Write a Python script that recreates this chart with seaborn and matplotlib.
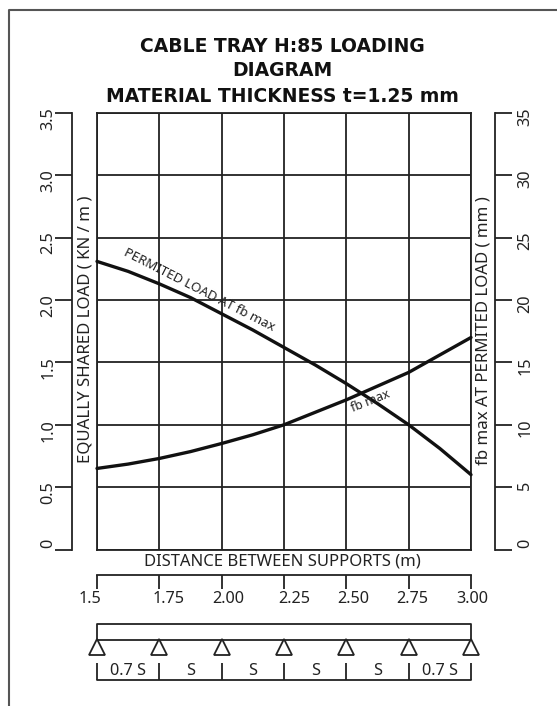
import numpy as np
import pandas as pd
import seaborn as sns
import matplotlib.pyplot as plt
from matplotlib.transforms import ScaledTranslation

W, H = 557, 706
DARK = '#222222'

spans = [1.5, 1.625, 1.75, 1.875, 2.0, 2.125, 2.25, 2.375, 2.5, 2.625, 2.75, 2.875, 3.0]
load = [2.31, 2.23, 2.13, 2.02, 1.89, 1.76, 1.62, 1.48, 1.33, 1.17, 1.0, 0.81, 0.6]
fb = [6.5, 6.85, 7.3, 7.85, 8.5, 9.2, 10.0, 11.0, 12.0, 13.1, 14.2, 15.6, 17.0]

supports = [1.5, 1.75, 2.0, 2.25, 2.5, 2.75, 3.0]
support_labels = ['1.5', '1.75', '2.00', '2.25', '2.50', '2.75', '3.00']
label_shift = [-7, 9, 7, 10, 7, 4, 1]
span_labels = ['0.7 S', 'S', 'S', 'S', 'S', '0.7 S']
load_ticks = [0, 0.5, 1.0, 1.5, 2.0, 2.5, 3.0, 3.5]
load_labels = ['0', '0.5', '1.0', '1.5', '2.0', '2.5', '3.0', '3.5']
fb_ticks = [0, 5, 10, 15, 20, 25, 30, 35]

sns.set_theme(style='white')
plt.rcParams['font.family'] = ['Noto Sans', 'DejaVu Sans']
plt.rcParams['text.color'] = DARK

fig = plt.figure(figsize=(W / 100, H / 100), dpi=100)
box = [97 / W, (H - 549.5) / H, 374 / W, 436.5 / H]
ax = fig.add_axes(box)

df = pd.DataFrame({'span': spans, 'load': load, 'fb': fb})

# main grid
ax.set_xlim(1.5, 3.0)
ax.set_ylim(0, 3.5)
ax.set_xticks(supports)
ax.set_yticks(load_ticks)
ax.grid(True, color=DARK, lw=1.3)
for s in ax.spines.values():
    s.set_color(DARK)
    s.set_linewidth(1.3)
sns.lineplot(data=df, x='span', y='load', ax=ax, color='#111111', lw=2.4, clip_on=False, zorder=5)
ax.set_xlabel('')
ax.set_ylabel('')

# left scale
ax_l = ax.twinx()
ax_l.set_ylim(0, 3.5)
ax_l.yaxis.set_ticks_position('left')
ax_l.set_yticks(load_ticks, load_labels)
ax_l.tick_params(axis='y', length=12, width=1.3, color=DARK, pad=-1, labelcolor=DARK, direction='out',
                 labelrotation=90, labelsize=11.7)
ax_l.tick_params(axis='x', bottom=False, top=False, labelbottom=False)
for lab in ax_l.get_yticklabels():
    lab.set_va('center')
for name, s in ax_l.spines.items():
    s.set_visible(name == 'left')
ax_l.spines['left'].set_position(('outward', 18))
ax_l.spines['left'].set_color(DARK)
ax_l.spines['left'].set_linewidth(1.3)

# right scale with the fb curve
ax_r = ax.twinx()
ax_r.set_ylim(0, 35)
sns.lineplot(data=df, x='span', y='fb', ax=ax_r, color='#111111', lw=2.4, clip_on=False, zorder=5)
ax_r.set_xlabel('')
ax_r.set_ylabel('')
ax_r.set_yticks(fb_ticks, [str(v) for v in fb_ticks])
ax_r.tick_params(axis='y', length=12, width=1.3, color=DARK, pad=4, labelcolor=DARK, direction='out', right=True,
                 labelrotation=90, labelsize=11.7)
ax_r.tick_params(axis='x', bottom=False, top=False, labelbottom=False)
for lab in ax_r.get_yticklabels():
    lab.set_va('center')
for name, s in ax_r.spines.items():
    s.set_visible(name == 'right')
ax_r.spines['right'].set_position(('outward', 17.3))
ax_r.spines['right'].set_color(DARK)
ax_r.spines['right'].set_linewidth(1.3)

# the 0 labels sit a little above their ticks
for a in (ax_l, ax_r):
    zero = a.get_yticklabels()[0]
    zero.set_transform(zero.get_transform() + ScaledTranslation(0, 5 / 100, fig.dpi_scale_trans))

# distance scale
ax_b = ax.twiny()
ax_b.set_xlim(1.5, 3.0)
ax_b.xaxis.set_ticks_position('bottom')
ax_b.set_xticks(supports, support_labels)
ax_b.tick_params(axis='x', length=10, width=1.3, color=DARK, pad=2, labelcolor=DARK, direction='out', labelsize=11.7)
ax_b.tick_params(axis='y', left=False, right=False, labelleft=False)
for name, s in ax_b.spines.items():
    s.set_visible(name == 'bottom')
ax_b.spines['bottom'].set_position(('outward', 18))
ax_b.spines['bottom'].set_color(DARK)
ax_b.spines['bottom'].set_linewidth(1.3)
for lab, dx in zip(ax_b.get_xticklabels(), label_shift):
    lab.set_transform(lab.get_transform() + ScaledTranslation(dx / 100, 0, fig.dpi_scale_trans))

# twinx and twiny turn these back on, so clear them last
ax.tick_params(left=False, bottom=False, right=False, top=False, labelleft=False, labelbottom=False)

# beam sketch, y in image rows
ax_s = fig.add_axes([box[0], (H - 690) / H, box[2], 80 / H])
ax_s.set_xlim(1.5, 3.0)
ax_s.set_ylim(690, 610)
ax_s.axis('off')
beam_top, beam_low, tri_y, dim_top, dim_low = 624, 640, 647, 663, 680
ax_s.plot([supports[0], supports[0], supports[-1], supports[-1]], [beam_low, beam_top, beam_top, beam_low],
          color=DARK, lw=1.3, clip_on=False)
ax_s.plot([supports[0], supports[-1]], [beam_low, beam_low], color=DARK, lw=1.3, clip_on=False)
ax_s.plot(supports, [tri_y] * len(supports), ls='', marker='^', ms=11.5, mfc='white', mec=DARK, mew=1.3, clip_on=False)
ax_s.plot([supports[0], supports[-1]], [dim_low, dim_low], color=DARK, lw=1.3, clip_on=False)
ax_s.vlines(supports, dim_top, dim_low, color=DARK, lw=1.3, clip_on=False)
mids = (np.array(supports[:-1]) + np.array(supports[1:])) / 2
for m, t in zip(mids, span_labels):
    ax_s.text(m, 671, t, ha='center', va='center', fontsize=11.7)

# outer frame, open on the right and at the bottom
fig.add_artist(plt.Line2D([9 / W, 9 / W, 1], [0, (H - 10) / H, (H - 10) / H], color='#555555', lw=1.5))

# texts
def px_text(x, y, s, **kw):
    fig.text(x / W, (H - y) / H, s, ha='center', va='center', **kw)

title_font = ['DejaVu Sans']
px_text(282, 46, 'CABLE TRAY H:85 LOADING', fontsize=13.5, fontweight='bold', family=title_font, color='#111111')
px_text(282, 71, 'DIAGRAM', fontsize=13.5, fontweight='bold', family=title_font, color='#111111')
px_text(282, 97, 'MATERIAL THICKNESS t=1.25 mm', fontsize=13.5, fontweight='bold', family=title_font, color='#111111')
px_text(86, 329, 'EQUALLY SHARED LOAD ( KN / m )', fontsize=12.1, rotation=90)
px_text(483, 331, 'fb max AT PERMITED LOAD ( mm )', fontsize=12.1, rotation=90)
px_text(282, 562, 'DISTANCE BETWEEN SUPPORTS (m)', fontsize=12)
px_text(199, 290, 'PERMITED LOAD AT fb max', fontsize=9.5, rotation=-27)
px_text(371, 401, 'fb max', fontsize=9, rotation=22)

fig.savefig('out.png', dpi=100, facecolor='white')
